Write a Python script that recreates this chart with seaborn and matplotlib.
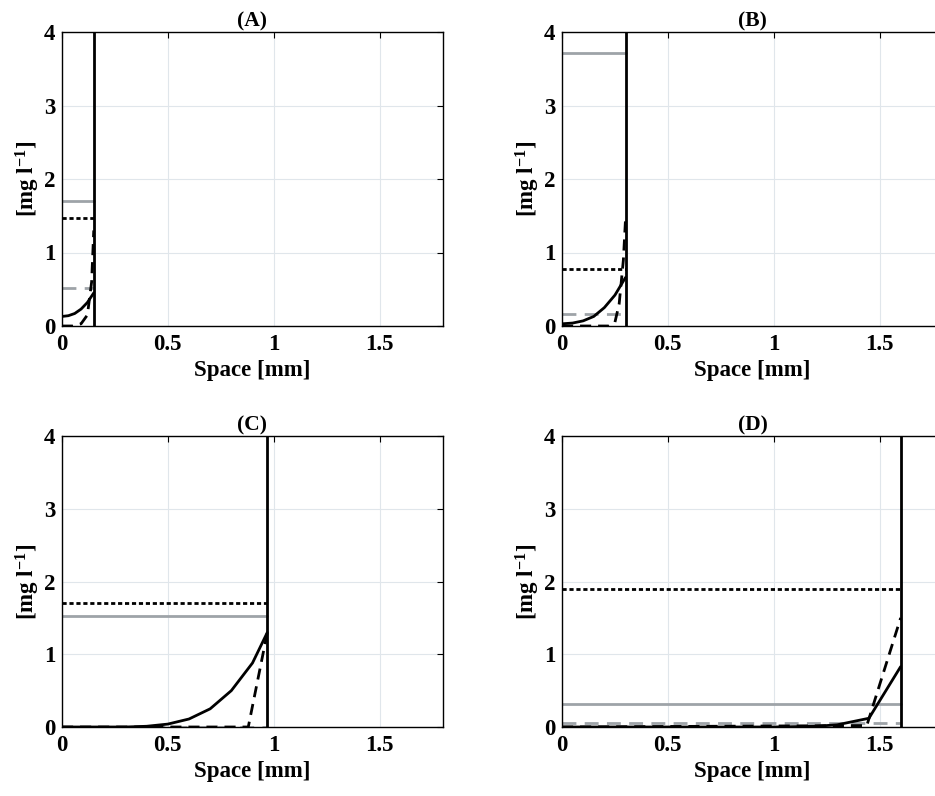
import matplotlib
matplotlib.use("Agg")
import matplotlib.pyplot as plt
import seaborn as sns
import numpy as np

sns.set_theme(style="whitegrid")
plt.rcParams['font.family'] = ['Liberation Serif', 'DejaVu Serif']
plt.rcParams['font.weight'] = 'bold'
plt.rcParams['mathtext.fontset'] = 'custom'
plt.rcParams['mathtext.rm'] = 'Liberation Serif:bold'
plt.rcParams['mathtext.it'] = 'Liberation Serif:bold'
plt.rcParams['mathtext.bf'] = 'Liberation Serif:bold'

titles = ["(A)", "(B)", "(C)", "(D)"]
boundary = [0.15, 0.30, 0.97, 1.60]
gray_solid_level = [1.70, 3.72, 1.53, 0.32]
black_dotted_level = [1.47, 0.78, 1.70, 1.90]
gray_dashed_level = [0.52, 0.17, 0.00, 0.05]

solid_x = [
    [0.0, 0.03, 0.06, 0.09, 0.12, 0.15],
    [0.0, 0.05, 0.10, 0.15, 0.20, 0.25, 0.30],
    [0.0, 0.30, 0.40, 0.50, 0.60, 0.70, 0.80, 0.90, 0.97],
    [0.0, 1.00, 1.20, 1.30, 1.45, 1.60],
]
solid_y = [
    [0.13, 0.14, 0.17, 0.23, 0.32, 0.45],
    [0.03, 0.04, 0.07, 0.13, 0.25, 0.42, 0.66],
    [0.0, 0.0, 0.01, 0.04, 0.11, 0.25, 0.50, 0.88, 1.30],
    [0.0, 0.0, 0.01, 0.03, 0.12, 0.83],
]
dash_x = [
    [0.0, 0.05, 0.09, 0.12, 0.14, 0.15],
    [0.0, 0.22, 0.25, 0.27, 0.29, 0.30],
    [0.0, 0.88, 0.97],
    [0.0, 1.44, 1.60],
]
dash_y = [
    [0.0, 0.0, 0.03, 0.15, 0.60, 1.30],
    [0.0, 0.0, 0.05, 0.30, 0.90, 1.45],
    [0.0, 0.0, 1.30],
    [0.0, 0.02, 1.50],
]

xticks = [0, 0.5, 1, 1.5]
xtick_labels = ["0", "0.5", "1", "1.5"]
yticks = [0, 1, 2, 3, 4]

fig = plt.figure(figsize=(9.35, 7.96), dpi=100)
W = 381 / 935
positions = [
    (62 / 935, 1 - 326 / 796, W, 294 / 796),
    (562 / 935, 1 - 326 / 796, W, 294 / 796),
    (62 / 935, 1 - 727 / 796, W, 291 / 796),
    (562 / 935, 1 - 727 / 796, W, 291 / 796),
]
GRAY = (0.62, 0.64, 0.66)

for i in range(4):
    ax = fig.add_axes(positions[i])
    b = boundary[i]
    sns.lineplot(x=[0, b], y=[gray_solid_level[i]] * 2, ax=ax, color=GRAY, lw=2, estimator=None)
    sns.lineplot(x=[0, b], y=[gray_dashed_level[i]] * 2, ax=ax, color=GRAY, lw=2,
                 linestyle=(0, (5, 3)), estimator=None)
    sns.lineplot(x=[0, b], y=[black_dotted_level[i]] * 2, ax=ax, color='black', lw=2,
                 linestyle=(0, (1.5, 1)), estimator=None)
    sns.lineplot(x=solid_x[i], y=solid_y[i], ax=ax, color='black', lw=2, estimator=None, sort=False)
    sns.lineplot(x=dash_x[i], y=dash_y[i], ax=ax, color='black', lw=2,
                 linestyle=(0, (4, 2.5)), estimator=None, sort=False)
    ax.axvline(b, color='black', lw=2)
    ax.set_xlim(0, 1.8)
    ax.set_ylim(0, 4)
    ax.set_xticks(xticks)
    ax.set_xticklabels(xtick_labels)
    ax.set_yticks(yticks)
    ax.set_facecolor('white')
    ax.grid(True, color=(0.88, 0.90, 0.92), lw=0.8)
    for s in ax.spines.values():
        s.set_color('black')
        s.set_linewidth(1.0)
        s.set_visible(True)
    ax.tick_params(direction='in', length=4, width=0.8, color='black', top=True, right=True,
                   labelsize=16.5, labelcolor='black')
    ax.tick_params(axis='x', pad=6)
    ax.tick_params(axis='y', pad=5)
    for lab in ax.get_xticklabels() + ax.get_yticklabels():
        lab.set_fontweight('bold')
    ax.set_xlabel("Space [mm]", fontsize=16.5, fontweight='bold', color='black', labelpad=3)
    ax.set_ylabel(r"[mg l$^{-1}$]", fontsize=16.5, fontweight='bold', color='black', labelpad=1)
    ax.set_title(titles[i], fontsize=15.5, fontweight='bold', color='black', pad=4)

fig.savefig("out.png", dpi=100)
